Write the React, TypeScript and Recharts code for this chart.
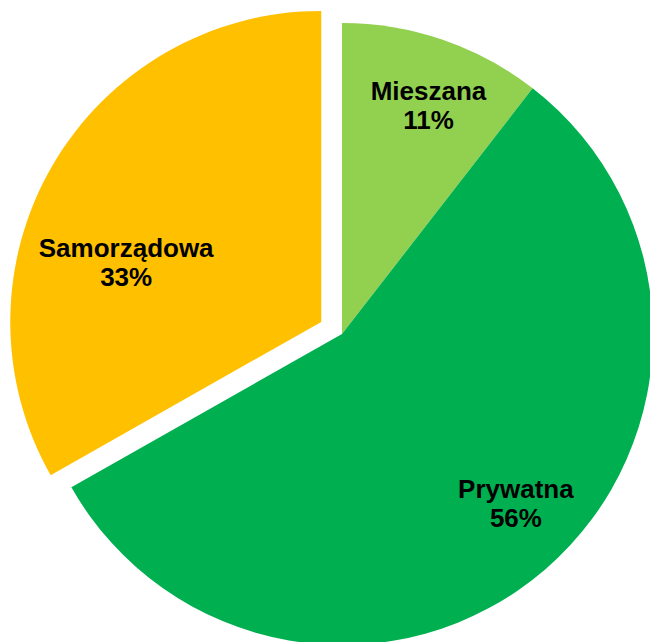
import React from "react";
import { PieChart, Pie, Cell } from "recharts";

const categories = ["Mieszana", "Prywatna", "Samorządowa"];
const shares = [10.5, 56.3, 33.2];
const percentLabels = ["11%", "56%", "33%"];
const colors = ["#92D050", "#00B050", "#FFC000"];
const explodedIndex = 2;

const data = categories.map((name, i) => ({ name, value: shares[i] }));

// layout constants
const W = 650;
const H = 642;
const CX = 342;
const CY = 334;
const R = 311;
const START = 90;
const END = -270;
const EXPLODE = 24;
const RAD = Math.PI / 180;
// per-label placement tweaks: radius fraction, clockwise angle shift (deg)
const labelTweaks = [
  { r: 0.787, dAng: 1.8 },
  { r: 0.78, dAng: -4.94 },
  { r: 0.656, dAng: -13.24 },
];

const total = shares.reduce((a, b) => a + b, 0);
const before = shares.slice(0, explodedIndex).reduce((a, b) => a + b, 0);
const explodedMid = START + (END - START) * ((before + shares[explodedIndex] / 2) / total);
const CX2 = CX + EXPLODE * Math.cos(explodedMid * RAD);
const CY2 = CY - EXPLODE * Math.sin(explodedMid * RAD);

const makeLabel = (show: (i: number) => boolean) => (props: any) => {
  const { cx, cy, midAngle, index } = props;
  if (!show(index)) return <g />;
  const t = labelTweaks[index];
  const ang = (midAngle - t.dAng) * RAD;
  const rr = t.r * R;
  const x = cx + rr * Math.cos(ang);
  const y = cy - rr * Math.sin(ang);
  return (
    <text
      x={x}
      y={y}
      textAnchor="middle"
      fill="#000"
      fontFamily="'Liberation Sans', Arial, sans-serif"
      fontWeight="bold"
      fontSize={26}
    >
      <tspan x={x} y={y - 5.5}>
        {categories[index]}
      </tspan>
      <tspan x={x} y={y + 23.5}>
        {percentLabels[index]}
      </tspan>
    </text>
  );
};

export default function App() {
  return (
    <div style={{ position: "absolute", left: 0, top: 0, width: W, height: H, background: "#fff" }}>
      <PieChart width={W} height={H} margin={{ top: 0, right: 0, bottom: 0, left: 0 }}>
        <Pie
          data={data}
          dataKey="value"
          nameKey="name"
          cx={CX}
          cy={CY}
          outerRadius={R}
          startAngle={START}
          endAngle={END}
          stroke="none"
          isAnimationActive={false}
          labelLine={false}
          label={makeLabel((i) => i !== explodedIndex)}
        >
          {data.map((d, i) => (
            <Cell key={d.name} fill={i === explodedIndex ? "transparent" : colors[i]} />
          ))}
        </Pie>
        <Pie
          data={data}
          dataKey="value"
          nameKey="name"
          cx={CX2}
          cy={CY2}
          outerRadius={R}
          startAngle={START}
          endAngle={END}
          stroke="none"
          isAnimationActive={false}
          labelLine={false}
          label={makeLabel((i) => i === explodedIndex)}
        >
          {data.map((d, i) => (
            <Cell key={d.name} fill={i === explodedIndex ? colors[i] : "transparent"} />
          ))}
        </Pie>
      </PieChart>
    </div>
  );
}
